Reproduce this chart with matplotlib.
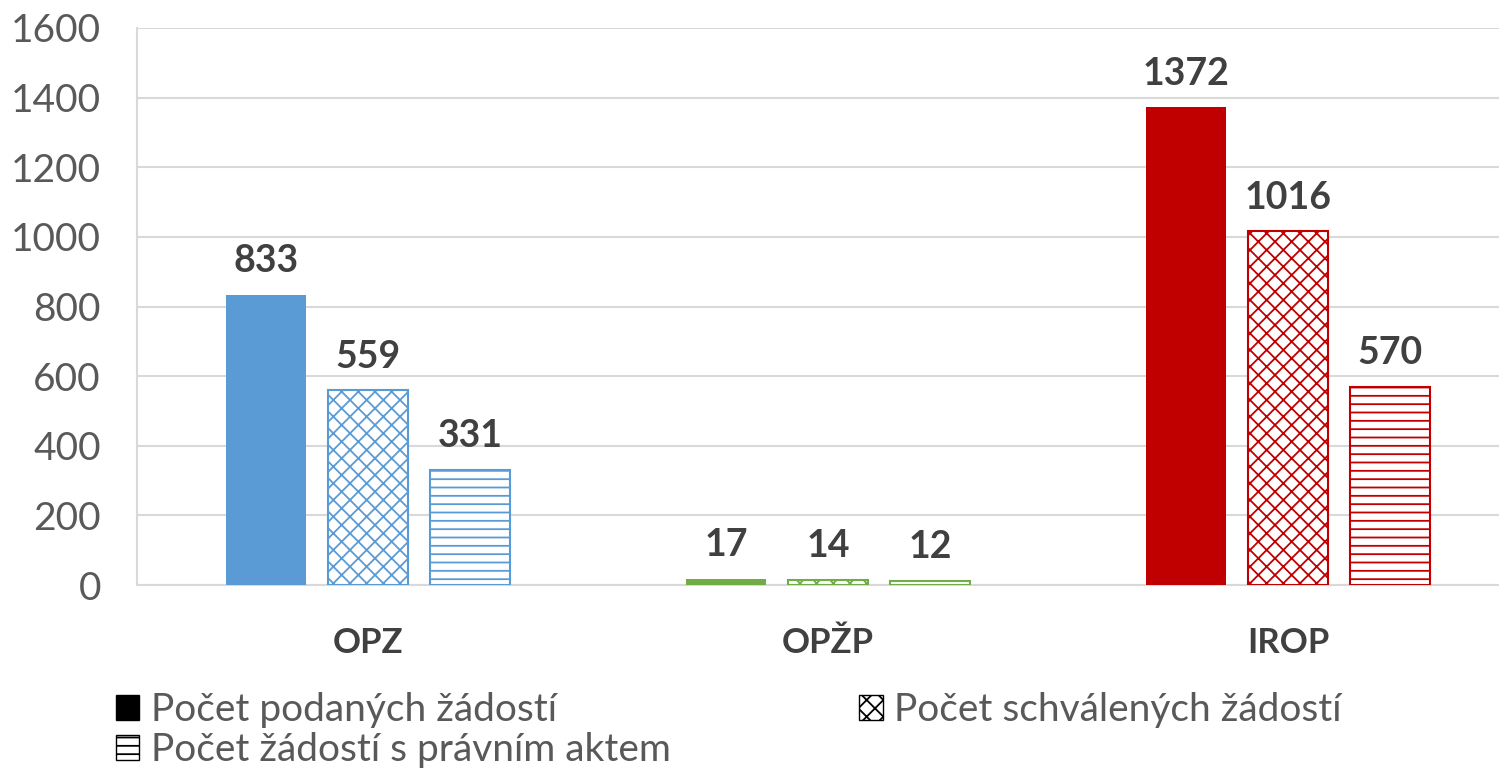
import matplotlib
matplotlib.use("Agg")
from matplotlib import pyplot as plt
from matplotlib.patches import Patch
import numpy as np

plt.rcParams["font.family"] = ["Lato", "DejaVu Sans"]
plt.rcParams["hatch.linewidth"] = 1.3

programy = ["OPZ", "OPŽP", "IROP"]
podane = [833, 17, 1372]
schvalene = [559, 14, 1016]
pravni_akt = [331, 12, 570]
barvy = ["#5B9BD5", "#70AD47", "#C00000"]
legenda = ["Počet podaných žádostí", "Počet schválených žádostí",
           "Počet žádostí s právním aktem"]

fig = plt.figure(figsize=(14.99, 7.70), dpi=100)
ax = fig.add_axes([137 / 1499, 185 / 770, 1381 / 1499, 557 / 770])

x = np.arange(len(programy))
sirka = 80 / 460
krok = 102 / 460

rady = [(podane, None), (schvalene, "xx"), (pravni_akt, "--")]
for i, (hodnoty, srafa) in enumerate(rady):
    pozice = x + (i - 1) * krok
    for p, h, c in zip(pozice, hodnoty, barvy):
        if srafa is None:
            ax.bar(p, h, sirka, color=c, zorder=3)
        else:
            ax.bar(p, h, sirka, facecolor="white", edgecolor=c, hatch=srafa,
                   linewidth=1.5, zorder=3)
        ax.annotate(str(h), (p, h), xytext=(0, 12), textcoords="offset points",
                    ha="center", va="bottom", fontsize=27, fontweight="bold",
                    color="#404040")

ax.set_xlim(-0.502, 2.5)
ax.set_ylim(0, 1600)
ax.set_yticks(range(0, 1601, 200))
ax.set_xticks(x)
ax.set_xticklabels(programy, fontsize=25, fontweight="bold", color="#404040")
ax.tick_params(axis="y", labelsize=28, labelcolor="#595959", length=0, pad=26)
ax.tick_params(axis="x", length=0, pad=30)
ax.grid(axis="y", color="#D9D9D9", linewidth=1.5, zorder=0)
for s in ["top", "right"]:
    ax.spines[s].set_visible(False)
ax.spines["left"].set_color("#D9D9D9")
ax.spines["left"].set_linewidth(1.5)
ax.spines["bottom"].set_color("#D9D9D9")
ax.spines["bottom"].set_linewidth(1.5)

uchyty = [Patch(facecolor="black", edgecolor="black"),
          Patch(facecolor="white", edgecolor="black", hatch="xx"),
          Patch(facecolor="white", edgecolor="black", hatch="--")]
# matplotlib plni legendu po sloupcich, proto poradi 0, 2, 1
poradi = [0, 2, 1]
leg = fig.legend([uchyty[i] for i in poradi], [legenda[i] for i in poradi],
                 ncol=2, loc="upper left",
                 bbox_to_anchor=(116 / 1499, 1 - 692 / 770), frameon=False,
                 fontsize=28, handlelength=0.6, handleheight=0.6,
                 handletextpad=0.3, columnspacing=4.85, labelspacing=0.1,
                 borderpad=0, borderaxespad=0)
for t in leg.get_texts():
    t.set_color("#595959")

fig.savefig("out.png", dpi=100)
